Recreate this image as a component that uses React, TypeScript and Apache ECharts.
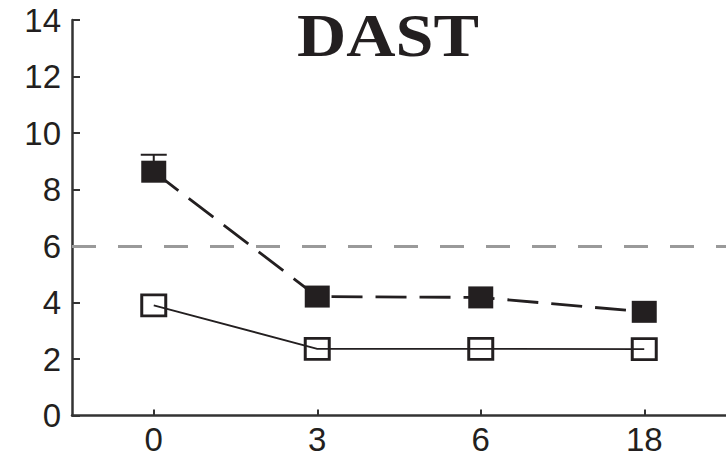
import React, { useEffect, useRef } from "react";
import * as echarts from "echarts";

const months = ["0", "3", "6", "18"];
const filledSeries = [8.63, 4.21, 4.18, 3.67];
const openSeries = [3.9, 2.36, 2.36, 2.35];
const errorBars = [[0, 8.63, 9.23]];
const thresholdValue = 6;
const yTicks = { min: 0, max: 14, interval: 2 };
const titleText = "DAST";

export default function App() {
  const ref = useRef<HTMLDivElement>(null);
  useEffect(() => {
    if (!ref.current) return;
    const chart = echarts.init(ref.current, null, { renderer: "svg" });
    const ink = "#231f20";
    chart.setOption({
      animation: false,
      backgroundColor: "#ffffff",
      grid: { left: 72, top: 20, width: 656, bottom: 43.5, containLabel: false },
      graphic: [
        {
          type: "text",
          x: 388,
          y: 4,
          scaleX: 1.1,
          style: {
            text: titleText,
            align: "center",
            verticalAlign: "top",
            fontFamily: "Liberation Serif",
            fontWeight: "bold",
            fontSize: 62,
            fill: ink,
          },
        },
      ],
      xAxis: {
        type: "category",
        data: months,
        boundaryGap: true,
        axisLine: { show: true, lineStyle: { color: "#333", width: 2.5 } },
        axisTick: { show: true, inside: true, alignWithLabel: true, length: 6, lineStyle: { color: "#333", width: 2 } },
        axisLabel: { color: ink, fontFamily: "Liberation Sans", fontSize: 33, margin: 7 },
        splitLine: { show: false },
      },
      yAxis: {
        type: "value",
        min: yTicks.min,
        max: yTicks.max,
        interval: yTicks.interval,
        axisLine: { show: true, lineStyle: { color: "#333", width: 2.5 } },
        axisTick: { show: true, inside: true, length: 8, lineStyle: { color: "#333", width: 2 } },
        axisLabel: { color: ink, fontFamily: "Liberation Sans", fontSize: 33, margin: 11 },
        splitLine: { show: false },
      },
      series: [
        {
          type: "custom",
          data: errorBars,
          z: 1,
          renderItem: (params: any, api: any) => {
            const c = api.coord([api.value(0), api.value(1)]);
            const t = api.coord([api.value(0), api.value(2)]);
            const st = { stroke: ink, lineWidth: 2 };
            return {
              type: "group",
              children: [
                { type: "line", shape: { x1: c[0], y1: c[1], x2: c[0], y2: t[1] }, style: st },
                { type: "line", shape: { x1: c[0] - 13, y1: t[1], x2: c[0] + 13, y2: t[1] }, style: st },
              ],
            };
          },
        },
        {
          type: "line",
          data: openSeries,
          z: 2,
          symbol: "rect",
          symbolSize: [24, 21],
          lineStyle: { color: ink, width: 1.8, type: "solid" },
          itemStyle: { color: "rgba(0,0,0,0)", borderColor: ink, borderWidth: 2.8 },
          markLine: {
            silent: true,
            symbol: "none",
            label: { show: false },
            lineStyle: { color: "#9a9a9a", width: 3, type: [24, 22] },
            data: [{ yAxis: thresholdValue }],
          },
        },
        {
          type: "line",
          data: filledSeries,
          z: 3,
          symbol: "rect",
          symbolSize: [25, 22],
          lineStyle: { color: ink, width: 2.8, type: [31, 13] },
          itemStyle: { color: ink, borderColor: ink, borderWidth: 0 },
        },
      ],
    });
    return () => chart.dispose();
  }, []);
  return (
    <div
      ref={ref}
      style={{ position: "fixed", left: 0, top: 0, width: 726, height: 459, background: "#fff" }}
    />
  );
}
